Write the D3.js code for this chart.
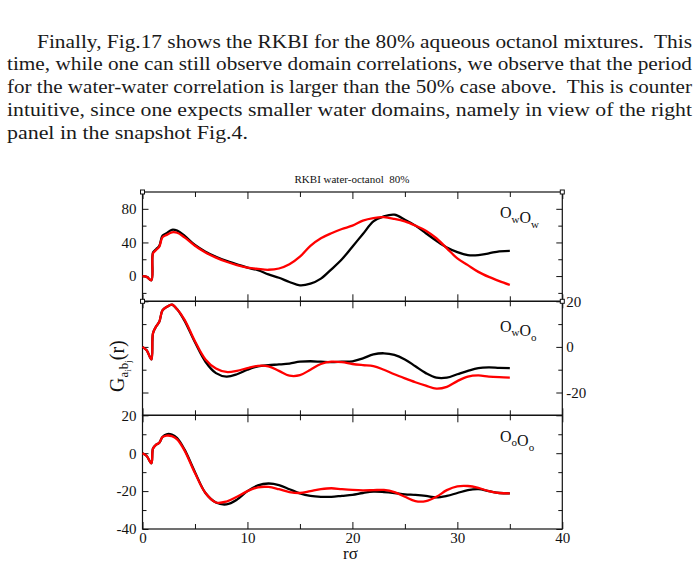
<!DOCTYPE html>
<html>
<head>
<meta charset="utf-8">
<script src="https://cdn.jsdelivr.net/npm/d3@7"></script>
<style>
  body { margin: 0; background: #fff; }
  svg { display: block; }
  text { font-family: "Liberation Serif", "Times New Roman", serif; fill: #111; }
</style>
</head>
<body>
<svg id="page"></svg>
<script>
// paragraph text, one entry per printed line
const paraLines = [
  "Finally, Fig.17 shows the RKBI for the 80% aqueous octanol mixtures.  This",
  "time, while one can still observe domain correlations, we observe that the period",
  "for the water-water correlation is larger than the 50% case above.  This is counter",
  "intuitive, since one expects smaller water domains, namely in view of the right",
  "panel in the snapshot Fig.4.",
];

const chartTitle = "RKBI water-octanol  80%";
const xTicks = [0, 10, 20, 30, 40];
const xMinorTicks = [5, 15, 25, 35];

// r grid shared by all curves
const rGrid = [0, 0.4, 0.85, 1.0, 1.3, 1.6, 1.9, 2.3, 2.8, 3.3,
  4, 5, 6, 7, 8, 9, 10, 11, 12, 13, 14, 15, 16, 17, 18, 19,
  20, 21, 22, 23, 24, 25, 26, 27, 28, 29, 30, 31, 32, 33, 34, 35];

// O_w O_w
const owowBlack = [0, -1, -5, 28, 32, 36, 48, 51, 55, 54,
  48, 37, 29, 23, 18, 14, 10, 7, 2, -2, -7, -11, -9, -3, 8, 20,
  35, 50, 65, 71, 73, 67, 60, 51, 42, 34, 28.5, 25, 25, 27, 29.5, 30];
const owowRed = [0, -1, -5, 27, 31, 35, 46, 49, 52, 51.5,
  46, 36, 28, 22, 17, 13, 10, 8.5, 7.5, 9, 14, 23, 36, 45, 51, 56,
  60, 66, 69, 70, 68, 65, 60, 54, 45, 33, 21, 13, 5, -1, -6, -10.5];

// O_w O_o
const owooBlack = [0, -1.5, -5.5, 6, 9, 11, 16, 17.5, 18.5, 16.5,
  11.5, 2, -6.5, -11.5, -13, -12, -10, -8.5, -8, -7.7, -7.3, -6.5, -6.3, -6.5, -6.7, -6.5,
  -6.3, -5, -3.3, -2.8, -3.5, -5.5, -8.5, -11.5, -13.5, -13.5, -12, -10.5, -9.3, -9, -9.2, -9.3];
const owooRed = [0, -1.5, -5.5, 6, 9, 11, 16, 17.5, 18.5, 16.5,
  12, 2.5, -5.5, -9.5, -11, -10.5, -9.3, -8.3, -8.5, -10.5, -12.6, -12.4, -10, -7.5, -6.5, -6.7,
  -7.5, -8, -8.4, -10, -12, -13.8, -15.5, -17, -18.3, -17.5, -15, -13, -12.5, -13, -13.3, -13.5];

// O_o O_o
const ooooBlack = [0, -1.5, -5.3, 2.5, 4.5, 5.5, 8.5, 10, 9.8, 8,
  2, -10, -21, -26, -27, -24.5, -20, -17, -16, -16.8, -19, -21.2, -22.5, -23, -23, -22.5,
  -22, -21, -20.3, -20.5, -21, -21.7, -22, -22.5, -23.3, -22.5, -21, -19.5, -19, -20, -21, -21.2];
const ooooRed = [0, -1.5, -5.3, 2.5, 4.5, 5.5, 8.5, 9.3, 9, 7.3,
  1.5, -10.5, -21, -26, -25.5, -23, -20, -18, -17.8, -19, -20.5, -21, -20, -19, -18.5, -19,
  -19.4, -19.6, -19.5, -19.4, -20.5, -23, -25.3, -25.3, -23, -19.5, -17.5, -17.3, -18.3, -20, -21, -21.2];

(() => {
  const width = 699;
  const height = 566;

  const page = d3.select("#page").attr("width", width).attr("height", height);

  // ---- paragraph: each line stretched to its printed width ----
  const paraBase = 47.7;
  const paraLead = 22.7;
  const paraBoxes = [[37, 692], [7, 692], [7, 692], [7, 692], [7, 248]];

  paraLines.forEach((line, i) => {
    const [x0, x1] = paraBoxes[i];
    page
      .append("text")
      .attr("x", x0)
      .attr("y", paraBase + i * paraLead)
      .attr("xml:space", "preserve")
      .attr("textLength", x1 - x0)
      .attr("lengthAdjust", "spacingAndGlyphs")
      .style("white-space", "pre")
      .style("font-size", "19.5px")
      .style("fill", "#1a1a1a")
      .text(line);
  });

  // ---- chart ----
  const x = d3.scaleLinear().domain([0, 40]).range([142.5, 562.3]);
  const left = x.range()[0];
  const right = x.range()[1];

  const panels = [
    {
      top: 192, bottom: 301.3, domain: [-30, 100],
      major: [80, 40, 0], minor: [60, 20, -20],
      leftLabels: true, rightLabels: false,
      black: owowBlack, red: owowRed,
      label: ["w", "w"], labelBase: 218.3,
    },
    {
      top: 301.3, bottom: 415.3, domain: [-30, 20],
      major: [20, 0, -20], minor: [10, -10],
      leftLabels: false, rightLabels: true,
      black: owooBlack, red: owooRed,
      label: ["w", "o"], labelBase: 331.7,
    },
    {
      top: 415.3, bottom: 529, domain: [-40, 20],
      major: [20, 0, -20, -40], minor: [10, -10, -30],
      leftLabels: true, rightLabels: false,
      black: ooooBlack, red: ooooRed,
      label: ["o", "o"], labelBase: 441.7,
    },
  ];

  const fmt = (d) => String(d);

  function styleAxis(g) {
    g.select(".domain").remove();
    g.selectAll(".tick line").attr("stroke", "#111").attr("stroke-width", 1);
    g.selectAll(".tick text")
      .style("font-size", "15px")
      .style("fill", "#111");
    g.attr("font-family", null).attr("font-size", null);
  }

  panels.forEach((p, pi) => {
    const y = d3.scaleLinear().domain(p.domain).range([p.bottom, p.top]);
    const g = page.append("g");

    // y ticks
    g.append("g")
      .attr("transform", `translate(${left},0)`)
      .call(
        d3.axisLeft(y).tickValues(p.major).tickSize(-6).tickPadding(6)
          .tickFormat(p.leftLabels ? fmt : "")
      )
      .call(styleAxis);
    g.append("g")
      .attr("transform", `translate(${left},0)`)
      .call(d3.axisLeft(y).tickValues(p.minor).tickSize(-4).tickFormat(""))
      .call(styleAxis);
    g.append("g")
      .attr("transform", `translate(${right},0)`)
      .call(
        d3.axisRight(y).tickValues(p.major).tickSize(-6).tickPadding(4)
          .tickFormat(p.rightLabels ? fmt : "")
      )
      .call(styleAxis);
    g.append("g")
      .attr("transform", `translate(${right},0)`)
      .call(d3.axisRight(y).tickValues(p.minor).tickSize(-4).tickFormat(""))
      .call(styleAxis);

    // x ticks on top and bottom edges
    g.append("g")
      .attr("transform", `translate(0,${p.top})`)
      .call(d3.axisTop(x).tickValues(xTicks).tickSize(-7).tickFormat(""))
      .call(styleAxis);
    g.append("g")
      .attr("transform", `translate(0,${p.top})`)
      .call(d3.axisTop(x).tickValues(xMinorTicks).tickSize(-5).tickFormat(""))
      .call(styleAxis);
    g.append("g")
      .attr("transform", `translate(0,${p.bottom})`)
      .call(
        d3.axisBottom(x).tickValues(xTicks).tickSize(-7).tickPadding(3)
          .tickFormat(pi === panels.length - 1 ? fmt : "")
      )
      .call(styleAxis);
    g.append("g")
      .attr("transform", `translate(0,${p.bottom})`)
      .call(d3.axisBottom(x).tickValues(xMinorTicks).tickSize(-5).tickFormat(""))
      .call(styleAxis);

    // frame
    g.append("rect")
      .attr("x", left)
      .attr("y", p.top)
      .attr("width", right - left)
      .attr("height", p.bottom - p.top)
      .attr("fill", "none")
      .attr("stroke", "#111")
      .attr("stroke-width", 1.2);

    // curves
    const line = d3
      .line()
      .x((d, i) => x(rGrid[i]))
      .y((d) => y(d))
      .curve(d3.curveCatmullRom.alpha(0.5));

    g.append("path")
      .attr("d", line(p.black))
      .attr("fill", "none")
      .attr("stroke", "#000")
      .attr("stroke-width", 2.3);
    g.append("path")
      .attr("d", line(p.red))
      .attr("fill", "none")
      .attr("stroke", "#ff0000")
      .attr("stroke-width", 2.3);

    // panel label O_a O_b
    const lab = g
      .append("text")
      .attr("x", 500)
      .attr("y", p.labelBase)
      .style("font-size", "16px");
    p.label.forEach((s) => {
      lab.append("tspan").text("O");
      lab.append("tspan").text(s).attr("dy", 4.6).style("font-size", "11px");
      lab.append("tspan").text("").attr("dy", -4.6);
    });
  });

  // small corner markers (top two panels)
  const markers = [
    [left, panels[0].top], [right, panels[0].top],
    [left, panels[1].top], [right, panels[1].top],
  ];
  page
    .selectAll("rect.marker")
    .data(markers)
    .join("rect")
    .attr("class", "marker")
    .attr("x", (d) => d[0] - 2)
    .attr("y", (d) => d[1] - 2)
    .attr("width", 4)
    .attr("height", 4)
    .attr("fill", "#fff")
    .attr("stroke", "#111")
    .attr("stroke-width", 1);

  // title
  page
    .append("text")
    .attr("x", 352)
    .attr("y", 182.7)
    .attr("text-anchor", "middle")
    .attr("xml:space", "preserve")
    .style("white-space", "pre")
    .style("font-size", "11px")
    .text(chartTitle);

  // x label
  page
    .append("text")
    .attr("x", 343)
    .attr("y", 558.5)
    .style("font-size", "17px")
    .text("rσ");

  // y label G_{a_i b_j}(r)
  const yl = page
    .append("text")
    .attr("transform", "translate(123.5,392) rotate(-90)")
    .style("font-size", "20px");
  yl.append("tspan").text("G");
  yl.append("tspan").text("a").attr("dy", 4).style("font-size", "13px");
  yl.append("tspan").text("i").attr("dy", 3).style("font-size", "9px");
  yl.append("tspan").text("b").attr("dy", -3).style("font-size", "13px");
  yl.append("tspan").text("j").attr("dy", 3).style("font-size", "9px");
  yl.append("tspan").text("(r)").attr("dy", -7);
})();
</script>
</body>
</html>
